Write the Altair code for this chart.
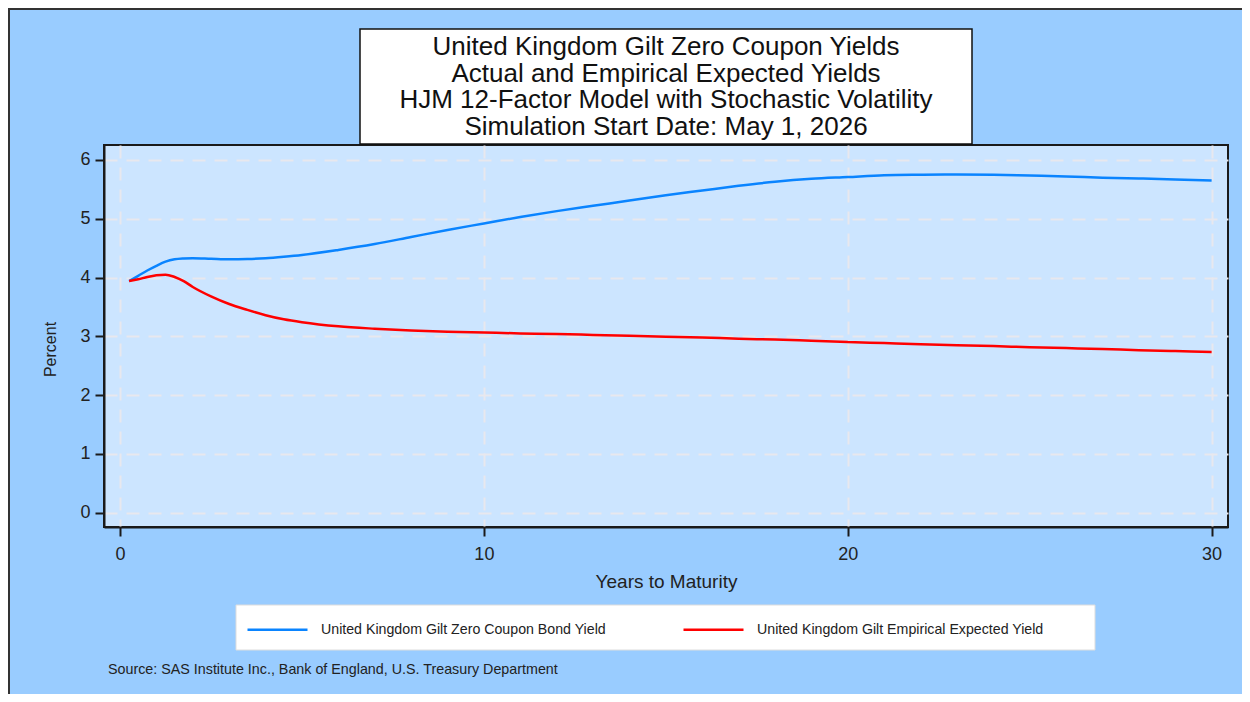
import altair as alt
import pandas as pd

maturity = [0.25, 0.5, 0.75, 1, 1.25, 1.5, 1.75, 2, 2.5, 3, 3.5, 4, 4.5, 5, 6, 7, 8, 9, 10,
            11, 12, 13, 14, 15, 16, 17, 18, 19, 20, 21, 22, 23, 24, 25, 26, 27, 28, 29, 30]
actual_yield = [3.94, 4.03, 4.12, 4.20, 4.27, 4.31, 4.325, 4.33, 4.32, 4.31, 4.315, 4.33, 4.355,
                4.385, 4.47, 4.57, 4.69, 4.81, 4.92, 5.03, 5.13, 5.22, 5.31, 5.40, 5.48, 5.56,
                5.63, 5.68, 5.71, 5.74, 5.75, 5.755, 5.75, 5.735, 5.72, 5.70, 5.685, 5.67, 5.65]
expected_yield = [3.94, 3.97, 4.01, 4.04, 4.05, 4.01, 3.94, 3.84, 3.68, 3.55, 3.45, 3.36, 3.29,
                  3.24, 3.17, 3.13, 3.10, 3.08, 3.065, 3.05, 3.04, 3.025, 3.01, 2.995, 2.98,
                  2.96, 2.945, 2.925, 2.905, 2.885, 2.865, 2.85, 2.835, 2.815, 2.80, 2.785,
                  2.765, 2.75, 2.735]

series_names = ["United Kingdom Gilt Zero Coupon Bond Yield",
                "United Kingdom Gilt Empirical Expected Yield"]
series_colors = ["#0A84FF", "#FF0000"]

title_lines = ["United Kingdom Gilt Zero Coupon Yields",
               "Actual and Empirical Expected Yields",
               "HJM 12-Factor Model with Stochastic Volatility",
               "Simulation Start Date: May 1, 2026"]
source_text = "Source: SAS Institute Inc., Bank of England, U.S. Treasury Department"
x_ticks = [0, 10, 20, 30]
y_ticks = [0, 1, 2, 3, 4, 5, 6]

FONT = "Liberation Sans"
W, H = 1124, 382

rows = []
for name, vals in zip(series_names, [actual_yield, expected_yield]):
    for m, v in zip(maturity, vals):
        rows.append({"Maturity": m, "Yield": v, "Series": name})
df = pd.DataFrame(rows)

one = pd.DataFrame({"k": [0]})

border = alt.Chart(one).mark_rect(fillOpacity=0, stroke="#333333", strokeWidth=2).encode(
    x=alt.value(-95), x2=alt.value(W + 60), y=alt.value(-136), y2=alt.value(H + 240))

legend_box = alt.Chart(one).mark_rect(fill="white", stroke="#dddddd", strokeWidth=1).encode(
    x=alt.value(132), x2=alt.value(991), y=alt.value(460), y2=alt.value(505))

lines = alt.Chart(df).mark_line(strokeWidth=2.5, interpolate="monotone").encode(
    x=alt.X("Maturity:Q", title="Years to Maturity",
            scale=alt.Scale(domain=[-0.44, 30.45], nice=False, zero=False),
            axis=alt.Axis(values=x_ticks, titlePadding=9, labelPadding=9,
                          titleFontSize=19)),
    y=alt.Y("Yield:Q", title="Percent",
            scale=alt.Scale(domain=[-0.243, 6.255], nice=False, zero=False),
            axis=alt.Axis(values=y_ticks, titlePadding=21, labelPadding=5,
                          titleFontSize=16, titleY=204)),
    color=alt.Color("Series:N", sort=series_names,
                    scale=alt.Scale(domain=series_names, range=series_colors),
                    legend=alt.Legend(orient="none", legendX=142, legendY=453,
                                      direction="horizontal", title=None,
                                      symbolType="stroke", symbolSize=3600,
                                      symbolStrokeWidth=2.5, labelFont=FONT,
                                      labelFontSize=14.2, labelColor="#222222",
                                      labelOffset=12, columnPadding=72,
                                      labelLimit=600, padding=0)),
)

title_box = alt.Chart(one).mark_rect(fill="white", stroke="#111111", strokeWidth=1.5).encode(
    x=alt.value(256), x2=alt.value(868), y=alt.value(-116), y2=alt.value(-1))

title_layers = []
for i, line in enumerate(title_lines):
    title_layers.append(
        alt.Chart(pd.DataFrame({"t": [line]})).mark_text(
            font=FONT, fontSize=26, color="#111111", align="center", baseline="middle"
        ).encode(x=alt.value(W / 2), y=alt.value(-98 + i * 26.5), text="t:N"))

source = alt.Chart(pd.DataFrame({"t": [source_text]})).mark_text(
    font=FONT, fontSize=14.3, color="#222222", align="left", baseline="middle"
).encode(x=alt.value(4), y=alt.value(525), text="t:N")

chart = alt.layer(border, legend_box, lines, title_box, *title_layers, source).properties(
    width=W, height=H,
    padding={"left": 96, "top": 137, "right": 14, "bottom": 167},
    autosize=alt.AutoSizeParams(type="none"),
    background="#99CCFF",
).configure_view(
    fill="#CCE5FF", stroke="#1a1a1a", strokeWidth=2
).configure_axis(
    grid=True, gridColor="#E8E8EE", gridDash=[13, 9], gridWidth=2,
    domainColor="#1a1a1a", domainWidth=2, tickColor="#1a1a1a", tickWidth=2, tickSize=9,
    labelFont=FONT, labelFontSize=18, labelColor="#222222",
    titleFont=FONT, titleFontSize=18, titleFontWeight="normal", titleColor="#222222",
)

chart.save("out.html", embed_options={"renderer": "svg", "actions": False})
